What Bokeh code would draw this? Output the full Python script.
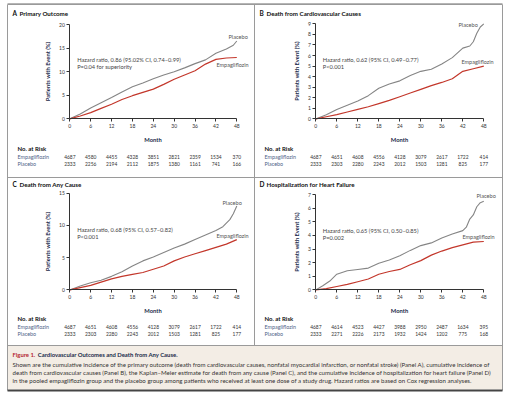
from bokeh.plotting import figure
from bokeh.models import Range1d, LinearAxis, FixedTicker
from bokeh.embed import file_html
from bokeh.resources import INLINE
from bokeh.core.properties import value

FONT = "Lato"

# ---------------- data ----------------
x_ticks = [0, 6, 12, 18, 24, 30, 36, 42, 48]
risk_months = [0, 6, 12, 18, 24, 30, 36, 42, 48]

# Panel A: Primary Outcome
a_title = "Primary Outcome"
a_hr = ["Hazard ratio, 0.86 (95.02% CI, 0.74\u20130.99)", "P=0.04 for superiority"]
a_y_ticks = [0, 5, 10, 15, 20]
a_placebo_m = [0, 3, 6, 9, 12, 15, 18, 21, 24, 27, 30, 33, 36, 39, 42, 45, 47, 48]
a_placebo_v = [0, 1.0, 2.3, 3.4, 4.5, 5.7, 6.8, 7.6, 8.5, 9.3, 10.0, 10.8, 11.7, 12.5, 13.9, 14.8, 15.6, 16.5]
a_empa_m = [0, 3, 6, 9, 12, 15, 18, 21, 24, 27, 30, 33, 36, 39, 42, 45, 48]
a_empa_v = [0, 0.6, 1.3, 2.2, 3.1, 4.1, 4.9, 5.6, 6.3, 7.3, 8.4, 9.3, 10.2, 11.6, 12.6, 12.9, 13.0]
a_risk_empa = [4687, 4580, 4455, 4328, 3851, 2821, 2359, 1534, 370]
a_risk_placebo = [2333, 2256, 2194, 2112, 1875, 1380, 1161, 741, 166]

# Panel B: Death from Cardiovascular Causes
b_title = "Death from Cardiovascular Causes"
b_hr = ["Hazard ratio, 0.62 (95% CI, 0.49\u20130.77)", "P<0.001"]
b_y_ticks = [0, 1, 2, 3, 4, 5, 6, 7, 8, 9]
b_placebo_m = [0, 3, 6, 9, 12, 15, 18, 21, 24, 27, 30, 33, 36, 39, 42, 44, 45, 46, 47, 48]
b_placebo_v = [0, 0.4, 0.9, 1.3, 1.7, 2.2, 2.9, 3.3, 3.6, 4.1, 4.5, 4.7, 5.2, 5.8, 6.7, 6.9, 7.3, 8.1, 8.7, 9.0]
b_empa_m = [0, 3, 6, 9, 12, 15, 18, 21, 24, 27, 30, 33, 36, 39, 42, 45, 48]
b_empa_v = [0, 0.2, 0.4, 0.65, 0.9, 1.15, 1.45, 1.75, 2.1, 2.45, 2.8, 3.15, 3.45, 3.8, 4.5, 4.75, 5.0]
b_risk_empa = [4687, 4651, 4608, 4556, 4128, 3079, 2617, 1722, 414]
b_risk_placebo = [2333, 2303, 2280, 2243, 2012, 1503, 1281, 825, 177]

# Panel C: Death from Any Cause
c_title = "Death from Any Cause"
c_hr = ["Hazard ratio, 0.68 (95% CI, 0.57\u20130.82)", "P<0.001"]
c_y_ticks = [0, 5, 10, 15]
c_placebo_m = [0, 3, 6, 9, 12, 15, 18, 21, 24, 27, 30, 33, 36, 39, 42, 44, 46, 47, 48]
c_placebo_v = [0, 0.6, 1.1, 1.5, 2.1, 2.8, 3.7, 4.5, 5.1, 5.8, 6.5, 7.1, 7.8, 8.5, 9.2, 9.8, 10.9, 11.8, 13.0]
c_empa_m = [0, 3, 6, 9, 12, 15, 18, 21, 24, 27, 30, 33, 36, 39, 42, 45, 48]
c_empa_v = [0, 0.35, 0.7, 1.2, 1.7, 2.1, 2.4, 2.7, 3.2, 3.7, 4.5, 5.1, 5.6, 6.1, 6.6, 7.1, 7.8]
c_risk_empa = [4687, 4651, 4608, 4556, 4128, 3079, 2617, 1722, 414]
c_risk_placebo = [2333, 2303, 2280, 2243, 2012, 1503, 1281, 825, 177]

# Panel D: Hospitalization for Heart Failure
d_title = "Hospitalization for Heart Failure"
d_hr = ["Hazard ratio, 0.65 (95% CI, 0.50\u20130.85)", "P=0.002"]
d_y_ticks = [0, 1, 2, 3, 4, 5, 6, 7]
d_placebo_m = [0, 2, 4, 6, 9, 12, 15, 18, 21, 24, 27, 30, 33, 36, 39, 42, 43, 44, 45, 46, 47, 48]
d_placebo_v = [0, 0.3, 0.65, 1.15, 1.4, 1.5, 1.6, 1.95, 2.2, 2.5, 2.9, 3.25, 3.45, 3.8, 4.1, 4.35, 4.6, 5.2, 5.5, 6.1, 6.4, 6.5]
d_empa_m = [0, 3, 6, 9, 12, 15, 18, 21, 24, 27, 30, 33, 36, 39, 42, 45, 48]
d_empa_v = [0, 0.1, 0.25, 0.4, 0.6, 0.8, 1.15, 1.35, 1.5, 1.85, 2.15, 2.55, 2.85, 3.1, 3.3, 3.5, 3.55]
d_risk_empa = [4687, 4614, 4523, 4427, 3988, 2950, 2487, 1634, 395]
d_risk_placebo = [2333, 2271, 2226, 2173, 1932, 1424, 1202, 775, 168]

group_names = ["Empagliflozin", "Placebo"]
risk_header = "No. at Risk"
x_label = "Month"
y_label = "Patients with Event (%)"

caption_head = "Figure 1."
caption_title = "Cardiovascular Outcomes and Death from Any Cause."
caption_lines = [
    "Shown are the cumulative incidence of the primary outcome (death from cardiovascular causes, nonfatal myocardial infarction, or nonfatal stroke) (Panel A), cumulative incidence of",
    "death from cardiovascular causes (Panel B), the Kaplan\u2013Meier estimate for death from any cause (Panel C), and the cumulative incidence of hospitalization for heart failure (Panel D)",
    "in the pooled empagliflozin group and the placebo group among patients who received at least one dose of a study drug. Hazard ratios are based on Cox regression analyses.",
]

# ---------------- layout (picture pixel coordinates) ----------------
W, H = 508, 395

PLACEBO_COLOR = "#858585"
EMPA_COLOR = "#c3372b"
FRAME_COLOR = "#9a9a9a"

panels = [
    dict(key="A", title=a_title, hr=a_hr, yt=a_y_ticks,
         pm=a_placebo_m, pv=a_placebo_v, em=a_empa_m, ev=a_empa_v,
         re=a_risk_empa, rp=a_risk_placebo,
         left=7, x0=69.3, x48=236.3, y0=118.3, ytop=24.0,
         title_y=13, hr_x=76.7, hr_y=58.7, risk_y=147.7,
         pl_lab=(228, 35.7), em_lab=(216, 64)),
    dict(key="B", title=b_title, hr=b_hr, yt=b_y_ticks,
         pm=b_placebo_m, pv=b_placebo_v, em=b_empa_m, ev=b_empa_v,
         re=b_risk_empa, rp=b_risk_placebo,
         left=254, x0=315.3, x48=483.3, y0=118.4, ytop=23.3,
         title_y=13, hr_x=322.3, hr_y=58.7, risk_y=147.7,
         pl_lab=(458, 24.3), em_lab=(461, 61)),
    dict(key="C", title=c_title, hr=c_hr, yt=c_y_ticks,
         pm=c_placebo_m, pv=c_placebo_v, em=c_empa_m, ev=c_empa_v,
         re=c_risk_empa, rp=c_risk_placebo,
         left=7, x0=69.3, x48=236.3, y0=289.4, ytop=192.7,
         title_y=184, hr_x=76.7, hr_y=229.3, risk_y=318.3,
         pl_lab=(222, 201.7), em_lab=(216, 235.7)),
    dict(key="D", title=d_title, hr=d_hr, yt=d_y_ticks,
         pm=d_placebo_m, pv=d_placebo_v, em=d_empa_m, ev=d_empa_v,
         re=d_risk_empa, rp=d_risk_placebo,
         left=254, x0=315.3, x48=483.3, y0=289.4, ytop=194.0,
         title_y=184, hr_x=322.3, hr_y=230, risk_y=318.3,
         pl_lab=(476, 195), em_lab=(462, 236)),
]


def lin_range(va, pa, vb, pb, p_start, p_end):
    k = (vb - va) / (pb - pa)
    return Range1d(va + (p_start - pa) * k, va + (p_end - pa) * k)


p = figure(width=W, height=H, output_backend="svg", toolbar_location=None,
           x_range=Range1d(0, W), y_range=Range1d(H, 0),
           x_axis_type=None, y_axis_type=None, min_border=0,
           background_fill_color="white", border_fill_color="white")
p.outline_line_color = None
p.xgrid.visible = False
p.ygrid.visible = False


def txt(x, y, s, size, color="#222222", style="normal", align="left", xr="default", yr="default"):
    xs = x if isinstance(x, list) else [x]
    ys = y if isinstance(y, list) else [y] * len(xs)
    ss = s if isinstance(s, list) else [s]
    p.text(x=xs, y=ys, text=ss, x_range_name=xr, y_range_name=yr,
           text_font=value(FONT), text_font_size=value(size), text_color=color,
           text_font_style=style, text_align=align, text_baseline="middle")


# caption background
p.quad(left=[7], right=[502], top=[345], bottom=[389], fill_color="#f3ede5", line_color=None)

# frame lines
p.segment(x0=[7, 7, 502, 254, 7, 7],
          y0=[4, 4, 4, 4, 177, 345],
          x1=[502, 7, 502, 254, 502, 502],
          y1=[4, 390, 390, 345, 177, 345],
          line_color=FRAME_COLOR, line_width=1)
p.segment(x0=[7], y0=[3], x1=[502], y1=[3], line_color="#b5b5b5", line_width=1)
p.segment(x0=[7], y0=[390], x1=[502], y1=[390], line_color="#444444", line_width=2)

for pn in panels:
    k = pn["key"]
    xn, yn = k + "x", k + "y"
    ymax = pn["yt"][-1]
    p.extra_x_ranges[xn] = lin_range(0, pn["x0"], 48, pn["x48"], 0, W)
    p.extra_y_ranges[yn] = lin_range(0, pn["y0"], ymax, pn["ytop"], H, 0)

    # curves
    p.line(pn["pm"], pn["pv"], x_range_name=xn, y_range_name=yn,
           line_color=PLACEBO_COLOR, line_width=1.1)
    p.line(pn["em"], pn["ev"], x_range_name=xn, y_range_name=yn,
           line_color=EMPA_COLOR, line_width=1.2)

    # axes
    xa = LinearAxis(x_range_name=xn, y_range_name=yn, fixed_location=0, bounds=(0, 48),
                    ticker=FixedTicker(ticks=x_ticks), axis_label=x_label)
    ya = LinearAxis(x_range_name=xn, y_range_name=yn, fixed_location=0, bounds=(0, ymax),
                    ticker=FixedTicker(ticks=pn["yt"]), axis_label=y_label)
    for ax in (xa, ya):
        ax.axis_line_color = "#333333"
        ax.axis_line_width = 1
        ax.major_tick_line_color = "#333333"
        ax.major_tick_out = 3
        ax.major_tick_in = 0
        ax.minor_tick_line_color = None
        ax.major_label_text_font = FONT
        ax.major_label_text_font_size = "5px"
        ax.major_label_text_color = "#333333"
        ax.major_label_standoff = 2
        ax.axis_label_text_font = FONT
        ax.axis_label_text_font_size = "5.8px"
        ax.axis_label_text_font_style = "bold"
        ax.axis_label_text_color = "#1a2a4a"
    xa.axis_label_standoff = 5
    ya.axis_label_standoff = 5
    p.add_layout(xa, "below")
    p.add_layout(ya, "left")

    # titles
    txt(pn["left"] + 5, pn["title_y"], k, "6.5px", color="#111111", style="bold")
    txt(pn["left"] + 12, pn["title_y"], pn["title"], "6.2px", color="#111111", style="bold")

    # hazard ratio
    txt(pn["hr_x"], pn["hr_y"], pn["hr"][0], "5.7px", color="#444444")
    txt(pn["hr_x"], pn["hr_y"] + 7, pn["hr"][1], "5.7px", color="#444444")

    # curve labels
    txt(pn["pl_lab"][0], pn["pl_lab"][1], group_names[1], "5.6px", color="#555555")
    txt(pn["em_lab"][0], pn["em_lab"][1], group_names[0], "5.5px", color="#555555")

    # risk table
    ry = pn["risk_y"]
    txt(pn["left"] + 10, ry, risk_header, "6px", color="#111111", style="bold")
    txt(pn["left"] + 10, ry + 8.3, group_names[0], "5.4px", color="#4f6488")
    txt(pn["left"] + 10, ry + 15.6, group_names[1], "5.4px", color="#4f6488")
    txt(risk_months, ry + 8.3, [str(v) for v in pn["re"]], "4.9px", color="#333333", align="center", xr=xn)
    txt(risk_months, ry + 15.6, [str(v) for v in pn["rp"]], "4.9px", color="#333333", align="center", xr=xn)

# caption
txt(12, 354, caption_head, "5.9px", color="#b3262e", style="bold")
txt(37.3, 354, caption_title, "5.9px", color="#1a2a4a", style="bold")
for i, line in enumerate(caption_lines):
    txt(12, 363.5 + 8.2 * i, line, "6.1px", color="#333333")

open("out.html", "w").write(file_html(p, INLINE))
